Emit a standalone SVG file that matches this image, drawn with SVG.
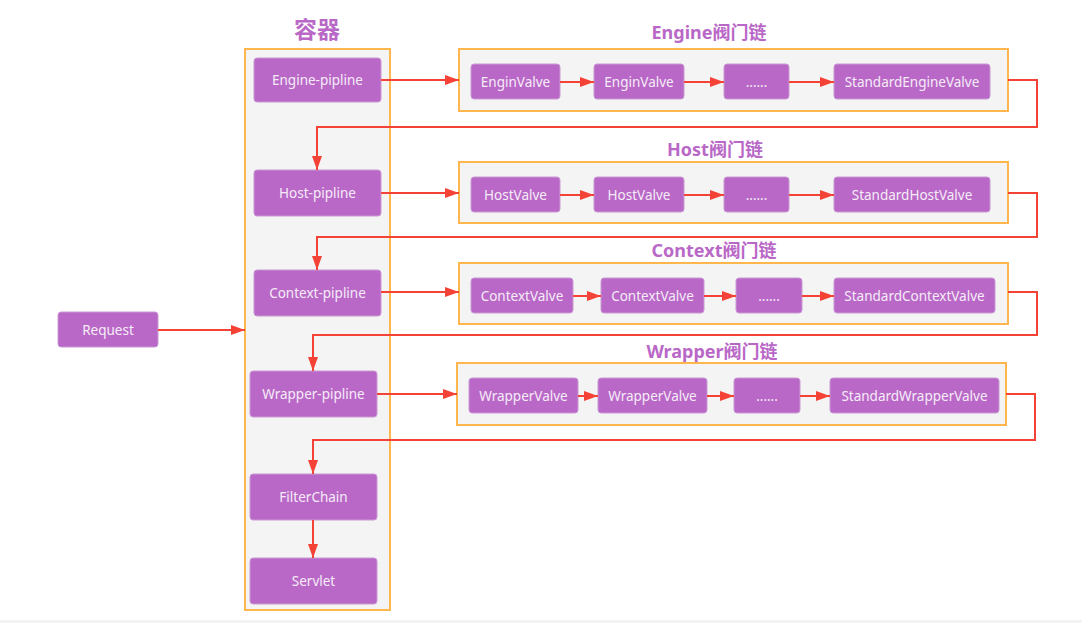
<svg xmlns="http://www.w3.org/2000/svg" width="1082" height="623" viewBox="0 0 1082 623">
<defs>
<marker id="ah" markerWidth="14" markerHeight="10" refX="14" refY="5" orient="auto" markerUnits="userSpaceOnUse">
<path d="M0,0 L14,5 L0,10 Z" fill="#F44336"/>
</marker>
<style>
.node rect{fill:#B968C7;stroke:#C99AD3;stroke-width:1}
.node text{fill:#F5ECF7;font-family:"Noto Sans","Open Sans","Liberation Sans",sans-serif;font-size:13.5px;text-anchor:middle;dominant-baseline:central}
.chain{fill:#F4F4F4;stroke:#FFB74D;stroke-width:2}
.title{fill:#B968C7;font-family:"Noto Sans","Noto Sans CJK SC",sans-serif;font-weight:bold;text-anchor:middle}
.conn path{fill:none;stroke:#F44336;stroke-width:2;marker-end:url(#ah)}
</style>
</defs>
<rect x="0" y="0" width="1082" height="623" fill="#FFFFFF"/>
<rect x="0" y="620" width="1082" height="3" fill="#F3F3F3"/>

<g id="container">
<rect x="245" y="49" width="145" height="561" class="chain"/>
<text x="317" y="38" class="title" font-size="23">容器</text>
</g>

<g id="chain-engine">
<rect x="459" y="49" width="549" height="62" class="chain"/>
<text x="709" y="39" class="title" font-size="18">Engine阀门链</text>
</g>
<g id="chain-host">
<rect x="459" y="162" width="549" height="61" class="chain"/>
<text x="715" y="156" class="title" font-size="18">Host阀门链</text>
</g>
<g id="chain-context">
<rect x="459" y="263" width="549" height="61" class="chain"/>
<text x="714" y="257" class="title" font-size="18">Context阀门链</text>
</g>
<g id="chain-wrapper">
<rect x="457" y="363" width="549" height="62" class="chain"/>
<text x="712" y="358" class="title" font-size="18">Wrapper阀门链</text>
</g>

<g id="request" class="node"><rect x="58" y="312" width="100" height="35" rx="3"/><text x="108" y="330">Request</text></g>
<g id="engine-pipline" class="node"><rect x="254" y="58" width="127" height="44" rx="3"/><text x="317.5" y="80">Engine-pipline</text></g>
<g id="host-pipline" class="node"><rect x="254" y="170" width="127" height="46" rx="3"/><text x="317.5" y="193">Host-pipline</text></g>
<g id="context-pipline" class="node"><rect x="254" y="270" width="127" height="46" rx="3"/><text x="317.5" y="293">Context-pipline</text></g>
<g id="wrapper-pipline" class="node"><rect x="250" y="371" width="127" height="46" rx="3"/><text x="313.5" y="394">Wrapper-pipline</text></g>
<g id="filterchain" class="node"><rect x="250" y="474" width="127" height="46" rx="3"/><text x="313.5" y="497">FilterChain</text></g>
<g id="servlet" class="node"><rect x="250" y="558" width="127" height="46" rx="3"/><text x="313.5" y="581">Servlet</text></g>

<g id="engine-v1" class="node"><rect x="471" y="64" width="89" height="35" rx="3"/><text x="515.5" y="82">EnginValve</text></g>
<g id="engine-v2" class="node"><rect x="594" y="64" width="90" height="35" rx="3"/><text x="639" y="82">EnginValve</text></g>
<g id="engine-v3" class="node"><rect x="724" y="64" width="65" height="35" rx="3"/><text x="756.5" y="82">......</text></g>
<g id="engine-v4" class="node"><rect x="834" y="64" width="156" height="35" rx="3"/><text x="912" y="82">StandardEngineValve</text></g>

<g id="host-v1" class="node"><rect x="471" y="177" width="89" height="35" rx="3"/><text x="515.5" y="195">HostValve</text></g>
<g id="host-v2" class="node"><rect x="594" y="177" width="90" height="35" rx="3"/><text x="639" y="195">HostValve</text></g>
<g id="host-v3" class="node"><rect x="724" y="177" width="65" height="35" rx="3"/><text x="756.5" y="195">......</text></g>
<g id="host-v4" class="node"><rect x="834" y="177" width="156" height="35" rx="3"/><text x="912" y="195">StandardHostValve</text></g>

<g id="context-v1" class="node"><rect x="471" y="278" width="102" height="35" rx="3"/><text x="522" y="296">ContextValve</text></g>
<g id="context-v2" class="node"><rect x="601" y="278" width="103" height="35" rx="3"/><text x="652.5" y="296">ContextValve</text></g>
<g id="context-v3" class="node"><rect x="736" y="278" width="66" height="35" rx="3"/><text x="769" y="296">......</text></g>
<g id="context-v4" class="node"><rect x="834" y="278" width="161" height="35" rx="3"/><text x="914.5" y="296">StandardContextValve</text></g>

<g id="wrapper-v1" class="node"><rect x="469" y="378" width="109" height="35" rx="3"/><text x="523.5" y="396">WrapperValve</text></g>
<g id="wrapper-v2" class="node"><rect x="598" y="378" width="109" height="35" rx="3"/><text x="652.5" y="396">WrapperValve</text></g>
<g id="wrapper-v3" class="node"><rect x="734" y="378" width="66" height="35" rx="3"/><text x="767" y="396">......</text></g>
<g id="wrapper-v4" class="node"><rect x="830" y="378" width="169" height="35" rx="3"/><text x="914.5" y="396">StandardWrapperValve</text></g>

<g id="connectors" class="conn">
<path d="M158,330 L245,330"/>
<path d="M381,80 L459,80"/>
<path d="M381,193 L459,193"/>
<path d="M381,292 L459,292"/>
<path d="M377,394 L457,394"/>
<path d="M560,82 L594,82"/>
<path d="M684,82 L724,82"/>
<path d="M789,82 L834,82"/>
<path d="M560,195 L594,195"/>
<path d="M684,195 L724,195"/>
<path d="M789,195 L834,195"/>
<path d="M573,296 L601,296"/>
<path d="M704,296 L736,296"/>
<path d="M802,296 L834,296"/>
<path d="M578,396 L598,396"/>
<path d="M707,396 L734,396"/>
<path d="M800,396 L830,396"/>
<path d="M1008,80 L1037,80 L1037,127 L317,127 L317,170"/>
<path d="M1008,193 L1037,193 L1037,237 L317,237 L317,270"/>
<path d="M1008,292 L1037,292 L1037,335 L313,335 L313,371"/>
<path d="M1006,394 L1035,394 L1035,440 L313,440 L313,474"/>
<path d="M313,520 L313,558"/>
</g>
</svg>
